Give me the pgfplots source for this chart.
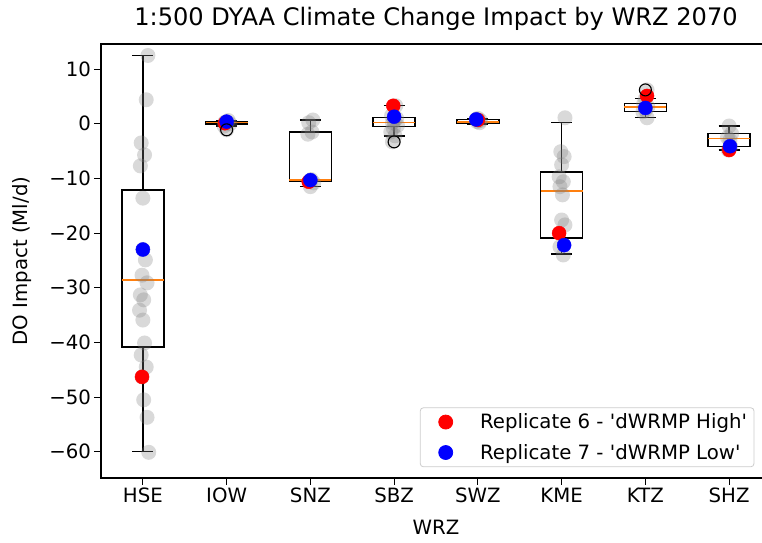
\documentclass[border=0pt]{standalone}
\usepackage{fontspec}
\setmainfont{DejaVu Sans}
\usepackage{pgfplots}
\pgfplotsset{compat=1.18}
\usepgfplotslibrary{statistics}

\definecolor{medorange}{HTML}{FF7F0E}
\definecolor{legframe}{gray}{0.8}

% individual replicate results per WRZ (x = position with small jitter)
\pgfplotstableread{
x y
1.06 12.5
1.04 4.4
0.98 -3.5
1.02 -5.7
0.97 -7.7
1.00 -13.6
1.03 -24.9
0.99 -27.7
1.05 -29.1
0.97 -31.3
1.01 -32.2
0.96 -34.1
1.00 -35.9
1.02 -40.1
0.98 -42.3
1.04 -44.5
1.01 -50.5
1.05 -53.7
1.07 -60.1
1.00 -23.0
0.99 -46.3
2.02 0.6
1.98 0.3
2.04 0.0
1.97 -0.4
2.00 -1.1
3.03 0.7
2.98 0.2
3.02 -1.5
2.97 -1.9
3.01 -10.2
2.99 -10.5
3.04 -10.8
3.00 -11.5
4.02 3.3
3.97 1.5
4.03 1.0
4.00 0.5
3.98 0.2
4.04 -0.3
3.99 -0.8
3.96 -1.5
4.01 -2.2
3.98 -3.3
5.00 1.0
4.98 0.8
5.03 0.6
4.99 0.4
5.02 0.2
6.04 1.1
5.99 -5.1
6.03 -6.0
6.00 -7.5
5.97 -9.7
6.02 -10.6
5.98 -11.5
6.01 -13.0
6.00 -17.6
6.04 -18.5
5.98 -22.5
6.02 -24.0
7.02 6.2
7.00 4.6
6.98 3.7
7.03 3.1
7.00 2.5
6.97 2.2
7.02 1.1
8.00 -0.4
8.03 -1.8
7.98 -2.5
8.01 -3.0
8.02 -4.2
7.99 -4.8
}\allpoints

\pgfplotstableread{
x y
0.99 -46.3
1.98 0.1
2.98 -10.6
3.99 3.3
5.00 0.7
5.97 -20.0
7.02 5.1
8.00 -4.8
}\highrep

\pgfplotstableread{
x y
1.00 -23.0
2.00 0.4
3.00 -10.3
4.00 1.3
4.98 0.8
6.03 -22.2
7.00 2.9
8.01 -4.1
}\lowrep

% legend symbol: a single dot with room on either side
\pgfplotsset{
  dotlegend/.style={legend image code/.code={%
      \path (0bp,0bp) (52bp,0bp);
      \fill[#1] (20bp,0bp) circle (7bp);}},
}

\begin{document}
\begin{tikzpicture}
\begin{axis}[
  scale only axis,
  width=670bp, height=434bp,
  xmin=0.5, xmax=8.5, ymin=-64.8, ymax=14.6,
  xtick={1,2,3,4,5,6,7,8},
  xticklabels={HSE,IOW,SNZ,SBZ,SWZ,KME,KTZ,SHZ},
  ytick={-60,-50,-40,-30,-20,-10,0,10},
  yticklabels={−60,−50,−40,−30,−20,−10,0,10},
  xtick pos=bottom, ytick pos=left,
  tick align=outside,
  major tick length=6.5bp,
  tick style={black, line width=1.1bp},
  axis line style={line width=1.1bp},
  ticklabel style={font=\fontsize{19.8}{23}\selectfont, text=black},
  title={1:500 DYAA Climate Change Impact by WRZ 2070},
  title style={font=\fontsize{24.2}{28}\selectfont, at={(axis description cs:0.5,1.030)}, anchor=base},
  xlabel={WRZ},
  xlabel style={font=\fontsize{19.8}{23}\selectfont, at={(axis description cs:0.5,-0.131)}, anchor=base},
  ylabel={DO Impact (Ml/d)},
  ylabel style={font=\fontsize{19.8}{23}\selectfont, at={(axis description cs:-0.118,0.5)}, anchor=center},
  boxplot/draw direction=y,
  boxplot/box extend=0.5,
  boxplot/whisker extend=0.25,
  boxplot/every median/.style={draw=medorange, line width=1.4bp},
  boxplot/every box/.style={draw=black, line width=1.4bp},
  boxplot/every whisker/.style={draw=black, line width=1.4bp},
  legend cell align=left,
  legend style={at={(rel axis cs:0.476,0.025)}, anchor=south west,
    draw=legframe, rounded corners=3bp, line width=0.8bp,
    font=\fontsize{19.8}{23}\selectfont,
    inner xsep=5bp, inner ysep=4bp, row sep=10bp},
]
% all replicates
\addplot[only marks, mark=*, mark size=7.5bp, forget plot,
  mark options={fill=gray, fill opacity=0.3, draw opacity=0}] table[x=x, y=y] {\allpoints};
% the two highlighted replicates
\addplot[only marks, mark=*, mark size=7bp, red, forget plot] table[x=x, y=y] {\highrep};
\addplot[only marks, mark=*, mark size=7bp, blue, forget plot] table[x=x, y=y] {\lowrep};
\addlegendimage{dotlegend=red}
\addlegendentry{Replicate 6 - \textquotesingle dWRMP High\textquotesingle}
\addlegendimage{dotlegend=blue}
\addlegendentry{Replicate 7 - \textquotesingle dWRMP Low\textquotesingle}

% box plots per WRZ
\addplot[forget plot, black, boxplot prepared={draw position=1, median=-28.6, upper quartile=-12.1, lower quartile=-40.8, upper whisker=12.5, lower whisker=-60.0}] coordinates {};
\addplot[forget plot, black, boxplot prepared={draw position=2, median=0.2, upper quartile=0.4, lower quartile=0.0, upper whisker=0.6, lower whisker=-0.4}] coordinates {};
\addplot[forget plot, black, boxplot prepared={draw position=3, median=-10.3, upper quartile=-1.5, lower quartile=-10.6, upper whisker=0.7, lower whisker=-11.5}] coordinates {};
\addplot[forget plot, black, boxplot prepared={draw position=4, median=0.2, upper quartile=1.1, lower quartile=-0.5, upper whisker=3.3, lower whisker=-2.2}] coordinates {};
\addplot[forget plot, black, boxplot prepared={draw position=5, median=0.3, upper quartile=0.8, lower quartile=0.1, upper whisker=1.0, lower whisker=-0.1}] coordinates {};
\addplot[forget plot, black, boxplot prepared={draw position=6, median=-12.3, upper quartile=-8.8, lower quartile=-20.9, upper whisker=0.2, lower whisker=-23.8}] coordinates {};
\addplot[forget plot, black, boxplot prepared={draw position=7, median=3.1, upper quartile=3.7, lower quartile=2.2, upper whisker=4.6, lower whisker=1.1}] coordinates {};
\addplot[forget plot, black, boxplot prepared={draw position=8, median=-2.7, upper quartile=-1.8, lower quartile=-4.2, upper whisker=-0.4, lower whisker=-4.8}] coordinates {};

% outliers
\addplot[forget plot, only marks, mark=o, mark size=6bp, black, line width=1.1bp] coordinates {(2,-1.1) (4,-3.3) (7,6.2)};
\end{axis}
\pgfresetboundingbox
\path[use as bounding box] ([xshift=-101bp,yshift=-65bp]current axis.south west) rectangle ([xshift=-9bp,yshift=44bp]current axis.north east);
\end{tikzpicture}
\end{document}
